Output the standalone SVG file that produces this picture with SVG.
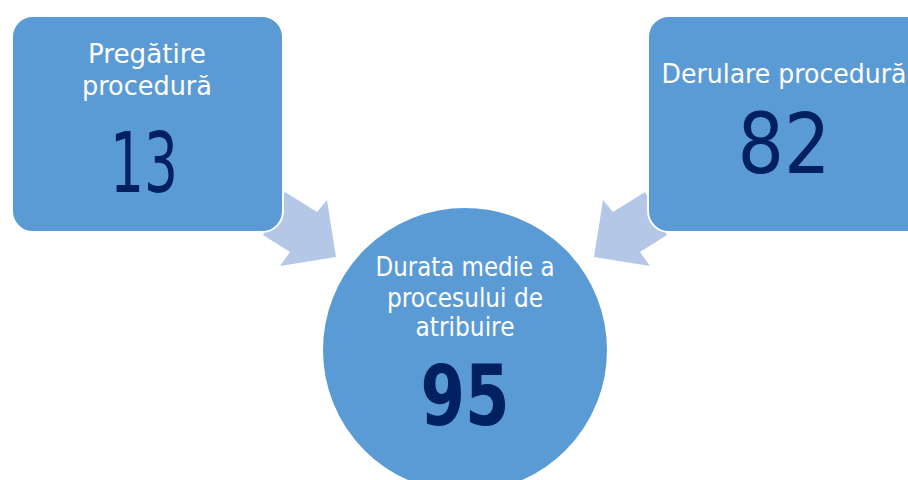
<svg xmlns="http://www.w3.org/2000/svg" width="908" height="480" viewBox="0 0 908 480">
<style>
.box{fill:#5b9bd5;stroke:#ffffff;stroke-width:2}
.arr{fill:#b4c7e7}
.lbl{font-family:"DejaVu Sans Condensed","Liberation Sans",sans-serif;font-size:26px;fill:#ffffff;text-anchor:middle}
.num{font-family:"DejaVu Sans Condensed","Liberation Sans",sans-serif;font-size:84px;fill:#002060;text-anchor:middle}
</style>
<rect width="908" height="480" fill="#ffffff"/>
<g id="connectors">
<polygon class="arr" points="285,192 317,212 327,200 336,257 280,266 290,252 263,235"/>
<polygon class="arr" points="645,192 613,212 603,200 594,257 650,266 640,252 667,235"/>
</g>
<g id="node-pregatire">
<rect class="box" x="12" y="16" width="271" height="216" rx="21"/>
<text class="lbl" x="147" y="63" textLength="118" lengthAdjust="spacingAndGlyphs">Pregătire</text>
<text class="lbl" x="147" y="95" textLength="130" lengthAdjust="spacingAndGlyphs">procedură</text>
<text class="num" x="144" y="192" textLength="68" lengthAdjust="spacingAndGlyphs">13</text>
</g>
<g id="node-derulare">
<rect class="box" x="648" y="16" width="280" height="216" rx="21"/>
<text class="lbl" x="784" y="83" textLength="245" lengthAdjust="spacingAndGlyphs">Derulare procedură</text>
<text class="num" x="784" y="173" textLength="93" lengthAdjust="spacingAndGlyphs">82</text>
</g>
<g id="node-durata">
<circle class="box" cx="465" cy="350" r="143"/>
<text class="lbl" x="465" y="276" textLength="179" lengthAdjust="spacingAndGlyphs">Durata medie a</text>
<text class="lbl" x="465" y="307" textLength="156" lengthAdjust="spacingAndGlyphs">procesului de</text>
<text class="lbl" x="465" y="336" textLength="99" lengthAdjust="spacingAndGlyphs">atribuire</text>
<text class="num" x="465" y="425" font-weight="bold" textLength="89" lengthAdjust="spacingAndGlyphs">95</text>
</g>
</svg>
